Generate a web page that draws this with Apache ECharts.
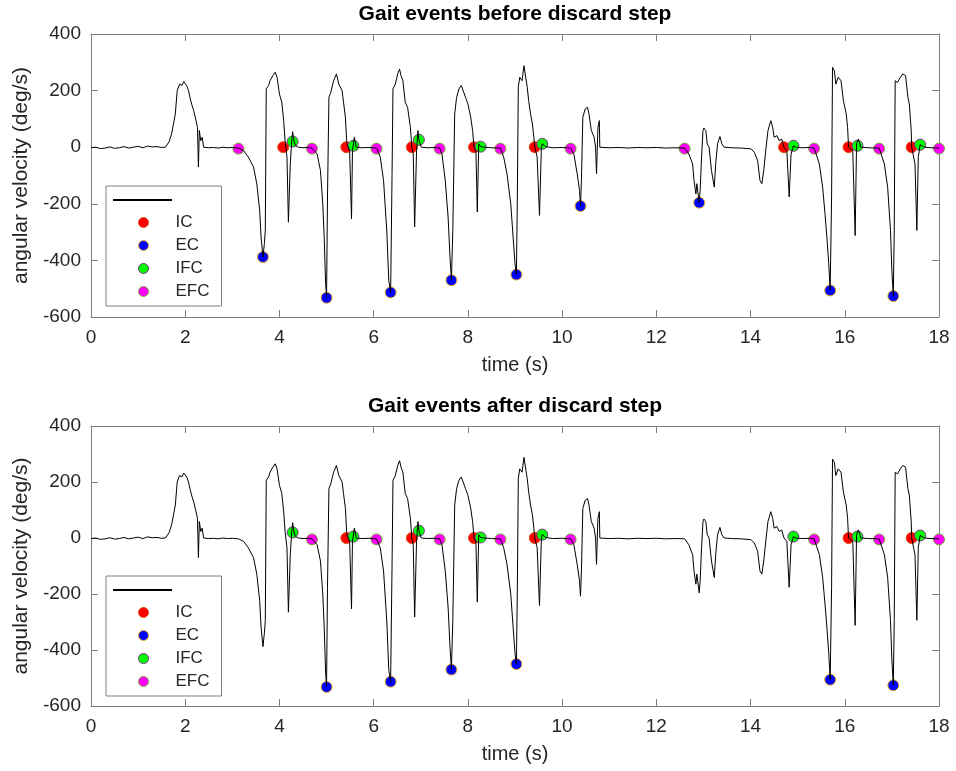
<!DOCTYPE html>
<html>
<head>
<meta charset="utf-8">
<script src="https://cdn.jsdelivr.net/npm/echarts@6/dist/echarts.min.js"></script>
<style>html,body{margin:0;padding:0;background:#fff}#c{width:956px;height:771px}</style>
</head>
<body>
<div id="c"></div>
<script>
// ---- data ----
const titles = ['Gait events before discard step', 'Gait events after discard step'];
const xTicks = [0, 18, 2];      // min, max, interval
const yTicks = [-600, 400, 200]; // min, max, interval

const timeS = [0.00,0.10,0.20,0.30,0.40,0.50,0.60,0.70,0.80,0.90,1.00,1.10,1.20,1.30,1.40,1.50,1.58,1.61,1.66,1.71,1.76,1.79,1.83,1.88,1.93,1.97,2.00,2.03,2.07,2.10,2.14,2.18,2.23,2.26,2.28,2.30,2.33,2.36,2.39,2.50,2.60,2.70,2.80,2.90,3.00,3.13,3.24,3.34,3.45,3.52,3.58,3.61,3.65,3.68,3.70,3.72,3.77,3.80,3.86,3.91,3.95,4.00,4.05,4.09,4.12,4.16,4.19,4.23,4.26,4.28,4.31,4.34,4.40,4.50,4.60,4.69,4.80,4.87,4.92,4.95,4.98,5.00,5.02,5.05,5.09,5.15,5.21,5.26,5.33,5.36,5.40,5.43,5.49,5.53,5.55,5.59,5.63,5.75,5.90,6.06,6.14,6.21,6.28,6.32,6.36,6.39,6.41,6.46,6.51,6.55,6.58,6.62,6.67,6.72,6.78,6.81,6.84,6.87,6.91,6.94,6.96,7.01,7.15,7.30,7.40,7.45,7.52,7.58,7.62,7.65,7.68,7.72,7.76,7.81,7.86,7.90,7.95,8.00,8.06,8.10,8.13,8.17,8.20,8.23,8.27,8.34,8.50,8.69,8.76,8.83,8.91,8.96,9.00,9.03,9.05,9.07,9.10,9.15,9.19,9.22,9.26,9.29,9.33,9.37,9.40,9.42,9.47,9.52,9.56,9.58,9.65,9.80,10.00,10.18,10.25,10.32,10.37,10.39,10.41,10.44,10.49,10.54,10.57,10.62,10.68,10.71,10.73,10.76,10.79,10.80,10.83,11.00,11.20,11.40,11.60,11.80,12.00,12.20,12.40,12.60,12.69,12.77,12.80,12.84,12.86,12.91,12.93,12.96,12.99,13.01,13.05,13.08,13.12,13.17,13.23,13.26,13.30,13.35,13.39,13.44,13.60,13.80,14.01,14.08,14.15,14.20,14.24,14.28,14.33,14.37,14.43,14.47,14.50,14.56,14.61,14.66,14.71,14.77,14.82,14.86,14.91,14.96,15.10,15.25,15.35,15.46,15.53,15.58,15.62,15.66,15.69,15.72,15.74,15.78,15.81,15.86,15.92,15.97,16.03,16.06,16.08,16.17,16.22,16.25,16.29,16.34,16.50,16.73,16.84,16.91,16.97,17.00,17.03,17.05,17.07,17.12,17.18,17.23,17.29,17.34,17.37,17.41,17.42,17.49,17.53,17.56,17.60,17.69,17.83,18.00];
const angVel = [-2,0,-5,-3,1,-4,-2,2,-3,0,3,-2,4,1,2,-1,0,6,20,47,90,118,200,223,218,232,235,218,200,176,150,129,94,70,-70,59,23,35,0,-2,-1,-3,0,-2,-1,-3,-12,-35,-70,-130,-223,-318,-388,-341,-294,206,218,235,253,265,247,188,159,94,23,-35,-265,-59,20,55,20,6,0,-2,-1,-3,-24,-82,-200,-318,-482,-529,-176,176,194,235,259,223,200,159,106,12,-12,-253,-12,35,0,-2,-1,-3,-35,-118,-300,-470,-513,-100,206,223,259,276,253,235,159,141,70,0,-24,-282,-12,59,26,0,-2,-1,-3,-24,-118,-247,-388,-470,-294,118,176,206,218,214,176,153,106,59,0,-12,-229,12,2,0,-2,-3,-35,-94,-200,-318,-412,-450,-176,212,247,235,288,282,212,165,118,82,35,0,-35,-241,0,12,2,-2,-1,-3,-24,-94,-153,-208,-118,106,135,141,118,59,35,0,-94,70,94,0,6,-2,-1,-3,-1,-2,-1,-3,-2,-3,-24,-59,-118,-165,-129,-196,-153,-35,59,68,59,12,0,-82,-141,-59,12,38,12,0,-2,-3,-6,-18,-47,-118,-129,-82,0,59,94,70,35,41,23,29,0,-12,-176,-24,5,0,-2,-1,-3,-59,-141,-235,-318,-412,-506,-176,282,270,223,247,235,165,118,70,0,-12,-312,12,29,0,-2,-3,-59,-141,-294,-435,-526,-294,235,229,247,259,253,176,153,59,0,-59,-294,-35,9,0,-2,-3];

const icBefore  = [[4.08,0],[5.42,0],[6.81,0],[8.13,0],[9.42,0],[14.71,0],[16.08,0],[17.42,0]];
const ecBefore  = [[3.65,-388],[5.00,-532],[6.36,-513],[7.65,-470],[9.03,-450],[10.39,-208],[12.91,-196],[15.69,-506],[17.03,-526]];
const ifcBefore = [[4.28,20],[5.57,5],[6.96,26],[8.27,2],[9.58,12],[14.91,5],[16.27,5],[17.60,9]];
const efcBefore = [[3.13,-5],[4.69,-5],[6.06,-5],[7.40,-5],[8.69,-5],[10.18,-5],[12.60,-5],[15.35,-5],[16.73,-5],[18.00,-5]];

const icAfter  = [[5.42,0],[6.81,0],[8.13,0],[9.42,0],[16.08,0],[17.42,0]];
const ecAfter  = [[5.00,-532],[6.36,-513],[7.65,-470],[9.03,-450],[15.69,-506],[17.03,-526]];
const ifcAfter = [[4.28,20],[5.57,5],[6.96,26],[8.27,2],[9.58,12],[14.91,5],[16.27,5],[17.60,9]];
const efcAfter = [[4.69,-5],[6.06,-5],[7.40,-5],[8.69,-5],[10.18,-5],[15.35,-5],[16.73,-5],[18.00,-5]];

const eventNames = ['IC', 'EC', 'IFC', 'EFC'];

// ---- chart ----
const FONT = '"Liberation Sans", Arial, Helvetica, sans-serif';
const TXT = '#262626';
const AX = '#808080';
const fills = {IC: '#ff0000', EC: '#0000ff', IFC: '#00ff00', EFC: '#ff00ff'};
const edges = {IC: '#D95319', EC: '#EDB120', IFC: '#7E2F8E', EFC: '#77AC30'};

const signal = timeS.map((t, i) => [t, angVel[i]]);
const eventSets = [
  {IC: icBefore, EC: ecBefore, IFC: ifcBefore, EFC: efcBefore},
  {IC: icAfter, EC: ecAfter, IFC: ifcAfter, EFC: efcAfter}
];

const gridTops = [34, 426];
const gridHeights = [283, 280];
const grids = gridTops.map((t, i) => ({left: 91, top: t, width: 848, height: gridHeights[i], show: false}));

const xAxes = [], yAxes = [], series = [], titleArr = [], legends = [];
gridTops.forEach((top, g) => {
  const common = {gridIndex: g, min: xTicks[0], max: xTicks[1], interval: xTicks[2],
    axisLine: {show: true, onZero: false, lineStyle: {color: AX, width: 1}},
    axisTick: {show: true, inside: true, length: 7, lineStyle: {color: AX}},
    splitLine: {show: false}};
  xAxes.push(Object.assign({}, common, {type: 'value', position: 'bottom',
    name: 'time (s)', nameLocation: 'middle', nameGap: 38,
    nameTextStyle: {color: TXT, fontSize: 20, fontFamily: FONT},
    axisLabel: {color: TXT, fontSize: 19, fontFamily: FONT, margin: 11}}));
  xAxes.push(Object.assign({}, common, {type: 'value', position: 'top', axisLabel: {show: false}}));
  const ycommon = {gridIndex: g, min: yTicks[0], max: yTicks[1], interval: yTicks[2],
    axisLine: {show: true, onZero: false, lineStyle: {color: AX, width: 1}},
    axisTick: {show: true, inside: true, length: 7, lineStyle: {color: AX}},
    splitLine: {show: false}};
  yAxes.push(Object.assign({}, ycommon, {type: 'value', position: 'left',
    name: 'angular velocity (deg/s)', nameLocation: 'middle', nameGap: 58,
    nameTextStyle: {color: TXT, fontSize: 21, fontFamily: FONT},
    axisLabel: {color: TXT, fontSize: 19, fontFamily: FONT, margin: 10}}));
  yAxes.push(Object.assign({}, ycommon, {type: 'value', position: 'right', axisLabel: {show: false}}));

  series.push({name: 'signal', type: 'line', xAxisIndex: 2 * g, yAxisIndex: 2 * g,
    data: signal, showSymbol: false, symbol: 'none', animation: false,
    lineStyle: {color: '#000', width: 1}, itemStyle: {color: '#000'}});
  eventNames.forEach(n => {
    series.push({name: n, type: 'scatter', xAxisIndex: 2 * g, yAxisIndex: 2 * g,
      data: eventSets[g][n], symbol: 'circle', symbolSize: 11, clip: false, animation: false,
      itemStyle: {color: fills[n], borderColor: edges[n], borderWidth: 1, opacity: 1}});
  });

  titleArr.push({text: titles[g], left: 515, textAlign: 'center', top: top - 31, padding: 0,
    textStyle: {color: '#000', fontSize: 21, fontWeight: 'bold', fontFamily: FONT, lineHeight: 22}});

  const off = g === 0 ? 0 : 390;
  legends.push({data: eventNames, orient: 'vertical', left: 106, top: 186 + off,
    padding: [28, 12, 6, 32], itemWidth: 10, itemHeight: 10, itemGap: 6,
    backgroundColor: '#fff', borderColor: AX, borderWidth: 1, borderRadius: 0,
    selectedMode: false, icon: 'circle',
    itemStyle: {borderWidth: 1},
    textStyle: {color: TXT, fontSize: 17, fontFamily: FONT, lineHeight: 17, padding: [0, 0, 0, 22]}});
  legends.push({data: [{name: 'signal', icon: 'rect'}], left: 113, top: 199 + off, padding: 0,
    itemWidth: 59, itemHeight: 2, selectedMode: false, z: 10,
    itemStyle: {color: '#000', borderWidth: 0},
    formatter: () => '', textStyle: {fontSize: 1, lineHeight: 2}});
});

const chart = echarts.init(document.getElementById('c'), null, {renderer: 'canvas'});
chart.setOption({
  animation: false,
  backgroundColor: '#fff',
  title: titleArr,
  grid: grids,
  xAxis: xAxes,
  yAxis: yAxes,
  legend: legends,
  series: series
});
</script>
</body>
</html>
